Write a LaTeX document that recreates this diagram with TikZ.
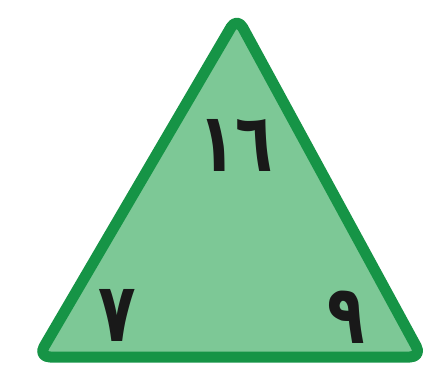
\documentclass[tikz,border=0pt]{standalone}
\usepackage{fontspec}
\newfontfamily\arabicfont[Script=Arabic]{DejaVu Sans}
\TeXXeTstate=1
\definecolor{leafgreen}{RGB}{125,200,150}
\definecolor{rimgreen}{RGB}{22,148,70}
\begin{document}
\begin{tikzpicture}[x=1pt,y=1pt,
    digit/.style={font=\arabicfont\bfseries\fontsize{82}{84}\selectfont, text=black!90, inner sep=0pt, transform shape, xscale=0.75}]
        \useasboundingbox (0,0) rectangle (432,373);
        \coordinate (top) at (237,356);
        \coordinate (left) at (38,16);
        \coordinate (right) at (422,16);
        \draw [fill=leafgreen, draw=rimgreen, line width=11pt, rounded corners=12pt, line join=round] (top)--(left)--(right)--cycle;
        \node[digit] (sum) at (236,228) {\beginR ١٦\endR};
        \node[digit] (seven) at (117,58) {\beginR ٧\endR};
        \node[digit] (nine) at (346,56) {\beginR ٩\endR};
      \end{tikzpicture}
\end{document}
